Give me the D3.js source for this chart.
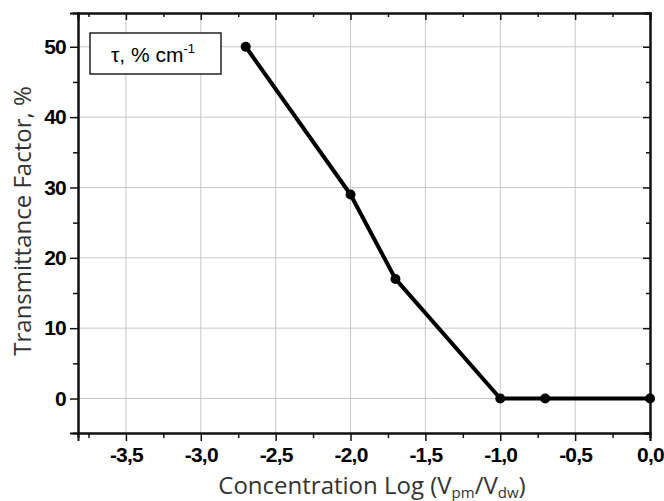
<!DOCTYPE html>
<html>
<head>
<meta charset="utf-8">
<script src="https://cdn.jsdelivr.net/npm/d3@7"></script>
<style>
  body { margin: 0; background: #fff; }
  svg { display: block; }
</style>
</head>
<body>
<div id="chart"></div>
<script>
  // data
  var concLog = [-2.7, -2.0, -1.7, -1.0, -0.7, 0.0];
  var transmittance = [50, 29, 17, 0, 0, 0];
  var xTicks = [-3.5, -3.0, -2.5, -2.0, -1.5, -1.0, -0.5, 0.0];
  var xMinor = [-3.75, -3.25, -2.75, -2.25, -1.75, -1.25, -0.75, -0.25];
  var yTicks = [0, 10, 20, 30, 40, 50];
  var yMinor = [5, 15, 25, 35, 45];

  var width = 664, height = 501;
  var margin = {top: 13, right: 14, bottom: 68, left: 78};

  var svg = d3.select('#chart').append('svg')
      .attr('width', width)
      .attr('height', height);

  var x = d3.scaleLinear().domain([-3.82, 0]).range([margin.left, width - margin.right]);
  var y = d3.scaleLinear().domain([-4.9, 54.8]).range([height - margin.bottom, margin.top]);

  var fmt = function (d) { return d3.format('.1f')(d).replace('.', ',').replace('−', '-'); };

  // grid
  svg.append('g').selectAll('line')
    .data(xTicks.filter(function (d) { return d < 0; })).enter()
    .append('line')
      .attr('x1', function (d) { return x(d); })
      .attr('x2', function (d) { return x(d); })
      .attr('y1', y.range()[0])
      .attr('y2', y.range()[1])
      .attr('stroke', '#c8c8c8')
      .attr('stroke-width', 1);

  svg.append('g').selectAll('line')
    .data(yTicks).enter()
    .append('line')
      .attr('x1', x.range()[0])
      .attr('x2', x.range()[1])
      .attr('y1', function (d) { return y(d); })
      .attr('y2', function (d) { return y(d); })
      .attr('stroke', '#c8c8c8')
      .attr('stroke-width', 1);

  // axes
  svg.append('g')
      .attr('transform', 'translate(0,' + y.range()[0] + ')')
      .call(d3.axisBottom(x).tickValues(xTicks).tickFormat(fmt).tickSize(8).tickPadding(6));
  svg.append('g')
      .attr('transform', 'translate(0,' + y.range()[0] + ')')
      .call(d3.axisBottom(x).tickValues(xMinor).tickFormat('').tickSize(5));

  svg.append('g')
      .attr('transform', 'translate(' + x.range()[0] + ',0)')
      .call(d3.axisLeft(y).tickValues(yTicks).tickSize(8).tickPadding(4));
  svg.append('g')
      .attr('transform', 'translate(' + x.range()[0] + ',0)')
      .call(d3.axisLeft(y).tickValues(yMinor).tickFormat('').tickSize(5));

  svg.append('g')
      .attr('transform', 'translate(0,' + y.range()[1] + ')')
      .call(d3.axisBottom(x).tickValues(xTicks).tickFormat('').tickSize(7));
  svg.append('g')
      .attr('transform', 'translate(0,' + y.range()[1] + ')')
      .call(d3.axisBottom(x).tickValues(xMinor).tickFormat('').tickSize(4));
  svg.append('g')
      .attr('transform', 'translate(' + x.range()[1] + ',0)')
      .call(d3.axisLeft(y).tickValues(yTicks).tickFormat('').tickSize(7));
  svg.append('g')
      .attr('transform', 'translate(' + x.range()[1] + ',0)')
      .call(d3.axisLeft(y).tickValues(yMinor).tickFormat('').tickSize(4));

  svg.selectAll('.domain').attr('stroke', '#111').attr('stroke-width', 2);
  svg.selectAll('.tick line').attr('stroke', '#111').attr('stroke-width', 1.5);
  svg.selectAll('.tick text')
      .attr('fill', '#000')
      .attr('font-family', '"Liberation Sans", Arial, sans-serif')
      .attr('font-weight', 'bold')
      .attr('font-size', 21)
      .attr('letter-spacing', -0.8);

  // line + markers
  var pts = concLog.map(function (c, i) { return [c, transmittance[i]]; });
  svg.append('path')
      .datum(pts)
      .attr('fill', 'none')
      .attr('stroke', '#000')
      .attr('stroke-width', 4)
      .attr('stroke-linejoin', 'round')
      .attr('d', d3.line().x(function (d) { return x(d[0]); }).y(function (d) { return y(d[1]); }));

  svg.append('g').selectAll('circle')
    .data(pts).enter()
    .append('circle')
      .attr('cx', function (d) { return x(d[0]); })
      .attr('cy', function (d) { return y(d[1]); })
      .attr('r', 5)
      .attr('fill', '#000');

  // legend box
  var lg = svg.append('g');
  lg.append('rect')
      .attr('x', 90).attr('y', 33)
      .attr('width', 131).attr('height', 41)
      .attr('fill', '#fff')
      .attr('stroke', '#000')
      .attr('stroke-width', 1.3);
  var lt = lg.append('text')
      .attr('x', 153).attr('y', 62)
      .attr('text-anchor', 'middle')
      .style('font-family', '"Liberation Sans", Arial, sans-serif')
      .style('font-size', '21px');
  lt.append('tspan').text('τ, % cm');
  lt.append('tspan').attr('dy', -9).style('font-size', '13px').text('-1');

  // axis titles
  var xt = svg.append('text')
      .attr('x', 372).attr('y', 494)
      .attr('text-anchor', 'middle')
      .attr('fill', '#333')
      .style('font-family', '"Open Sans", sans-serif')
      .style('font-size', '24px');
  xt.append('tspan').text('Concentration Log (V');
  xt.append('tspan').attr('dy', 4).style('font-size', '15px').text('pm');
  xt.append('tspan').attr('dy', -4).text('/V');
  xt.append('tspan').attr('dy', 4).style('font-size', '15px').text('dw');
  xt.append('tspan').attr('dy', -4).text(')');

  svg.append('text')
      .attr('transform', 'translate(31,221) rotate(-90)')
      .attr('text-anchor', 'middle')
      .attr('fill', '#333')
      .style('font-family', '"Open Sans", sans-serif')
      .style('font-size', '24px')
      .text('Transmittance Factor, %');
</script>
</body>
</html>
